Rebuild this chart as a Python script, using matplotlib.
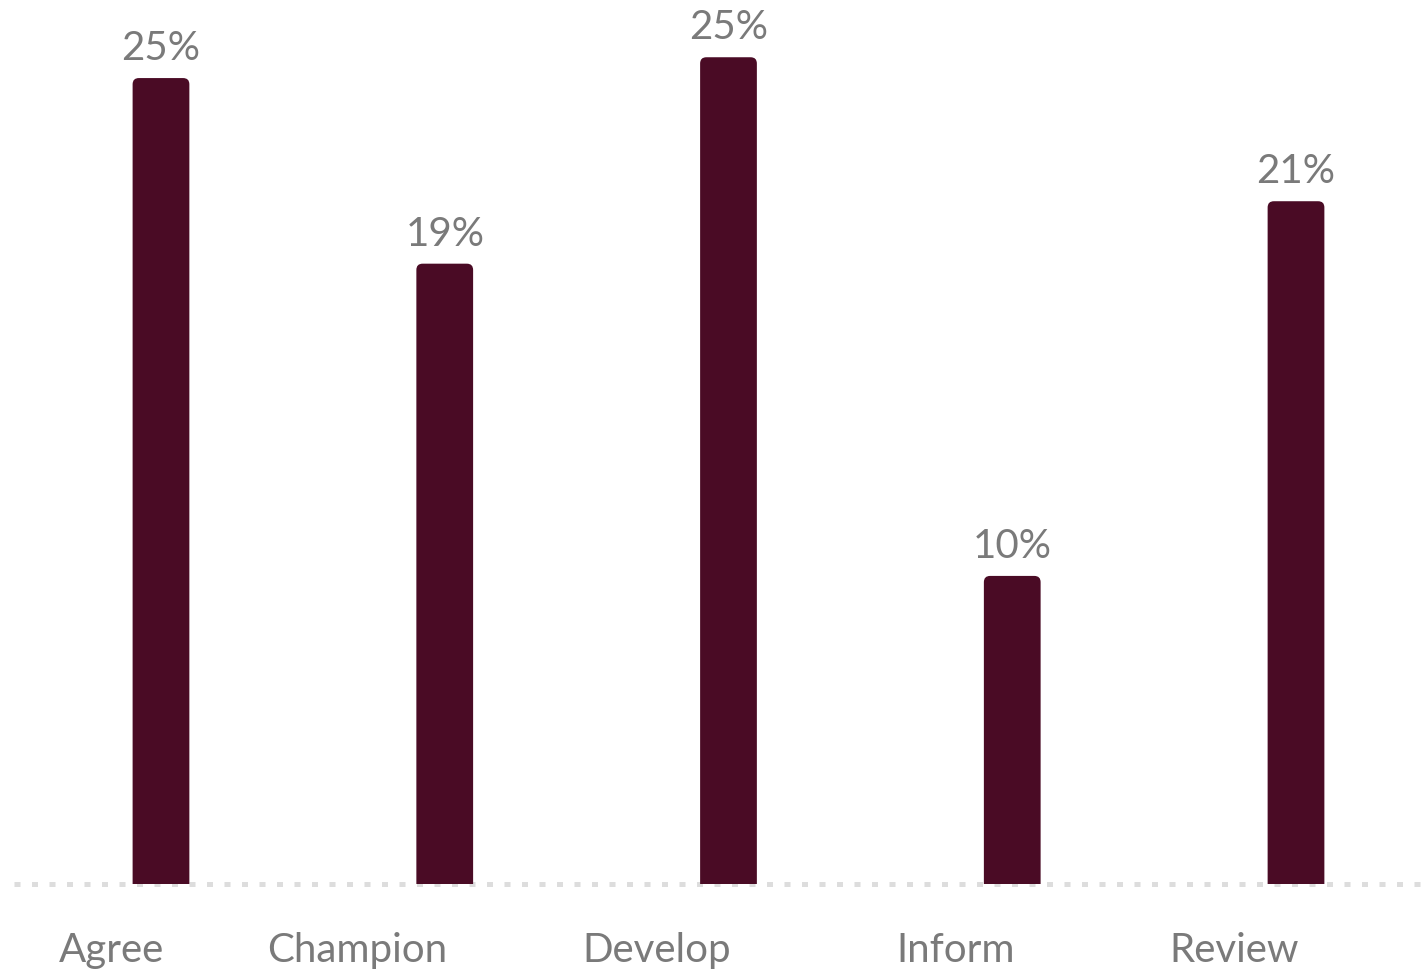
import numpy as np
import matplotlib
matplotlib.use('Agg')
import matplotlib.pyplot as plt
from matplotlib.patches import FancyBboxPatch

categories = ['Agree', 'Champion', 'Develop', 'Inform', 'Review']
values = [24.55, 19.2, 25.15, 10.2, 21.0]

bar_color = '#4a0b25'
text_color = '#7a7a7a'

plt.rcParams['font.family'] = ['Lato', 'DejaVu Sans']

fig = plt.figure(figsize=(14.24, 9.69), dpi=100)
ax = fig.add_axes([14 / 1424, 85 / 969, 1406 / 1424, 884 / 969])

x = np.arange(len(categories))
width = 0.2
ax.set_xlim(-0.518, 4.437)
ax.set_ylim(1.32, 26.8)

# rounded top corners
rx = 0.022
ry = 0.18
for xi, v in zip(x, values):
    p = FancyBboxPatch((xi - width / 2, 0), width, v,
                       boxstyle='round,pad=0,rounding_size=%f' % rx,
                       mutation_aspect=ry / rx,
                       facecolor=bar_color, edgecolor='none', zorder=3)
    ax.add_patch(p)
    ax.annotate('{:.0f}%'.format(v), xy=(xi, v), xytext=(0, 13),
                textcoords='offset points', ha='center', va='baseline',
                fontsize=29, color=text_color)

for xi, c in zip(x, categories):
    ax.annotate(c, xy=(xi, 0), xycoords=('data', 'axes fraction'),
                xytext=(2, -56), textcoords='offset points',
                ha='right', va='baseline', fontsize=29, color=text_color)

ax.axhline(1.32, color='#dddddd', linewidth=3.6,
           linestyle=(0, (1.2, 2.3)), dash_capstyle='butt', zorder=2,
           clip_on=False)

ax.set_xticks([])
ax.set_yticks([])
for s in ax.spines.values():
    s.set_visible(False)

fig.savefig('out.png', dpi=100)
